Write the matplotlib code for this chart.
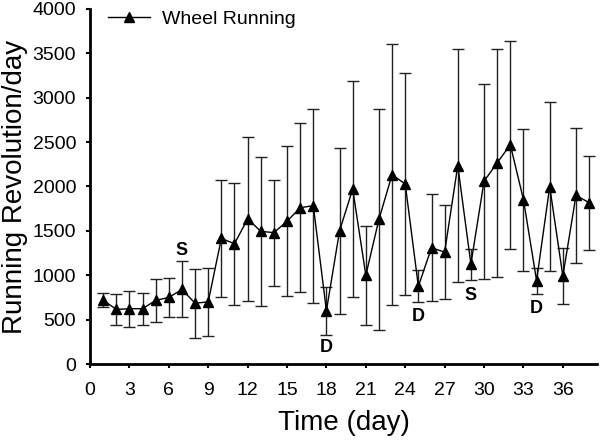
import matplotlib
matplotlib.use("Agg")
import matplotlib.pyplot as plt

plt.rcParams['font.family'] = ['Liberation Sans', 'DejaVu Sans']

days = list(range(1, 39))
wheel_running = [720, 615, 623, 623, 717, 750, 840, 685, 700, 1415,
                 1355, 1635, 1495, 1480, 1608, 1760, 1785, 600, 1500, 1972,
                 1000, 1631, 2134, 2028, 875, 1310, 1260, 2236, 1125, 2060,
                 2266, 2470, 1853, 940, 1998, 990, 1900, 1818]
errors = [80, 173, 201, 182, 240, 215, 316, 387, 383, 660,
          685, 922, 838, 598, 847, 951, 1093, 273, 937, 1215,
          560, 1247, 1467, 1254, 179, 603, 529, 1309, 175, 1100,
          1281, 1170, 800, 147, 955, 314, 760, 529]

annot_text = ['S', 'D', 'D', 'S', 'D']
annot_x = [7, 18, 25, 29, 34]
annot_y = [1280, 190, 540, 770, 620]

xticks = list(range(0, 37, 3))
yticks = list(range(0, 4001, 500))

fig = plt.figure(figsize=(6, 4.41), dpi=100)
ax = fig.add_axes([0.15, 0.1746, 0.845, 0.805])

ax.errorbar(days, wheel_running, yerr=errors, fmt='none', ecolor='#222222',
            elinewidth=1.0, capsize=4, capthick=1.0, zorder=2)
ax.plot(days, wheel_running, color='black', lw=1.0, marker='^', markersize=7,
        markerfacecolor='black', markeredgecolor='black', label='Wheel Running', zorder=3)

for t, x, y in zip(annot_text, annot_x, annot_y):
    ax.text(x, y, t, ha='center', va='center', fontsize=13, fontweight='bold')

ax.set_xlim(0, 38.6)
ax.set_ylim(0, 4000)
ax.set_xticks(xticks)
ax.set_yticks(yticks)
ax.tick_params(axis='both', labelsize=14, width=1.5, length=3, direction='out')
ax.tick_params(axis='x', pad=10)
ax.tick_params(axis='y', pad=7)
for s in ['top', 'right']:
    ax.spines[s].set_visible(False)
for s in ['left', 'bottom']:
    ax.spines[s].set_linewidth(2)

ax.set_xlabel('Time (day)', fontsize=20, labelpad=8)
ax.set_ylabel('Running Revolution/day', fontsize=20, labelpad=3)

ax.legend(loc='upper left', bbox_to_anchor=(0.0, 1.045), frameon=False, fontsize=14,
          handlelength=2.2, handletextpad=0.6)

fig.savefig('out.png', dpi=100)
